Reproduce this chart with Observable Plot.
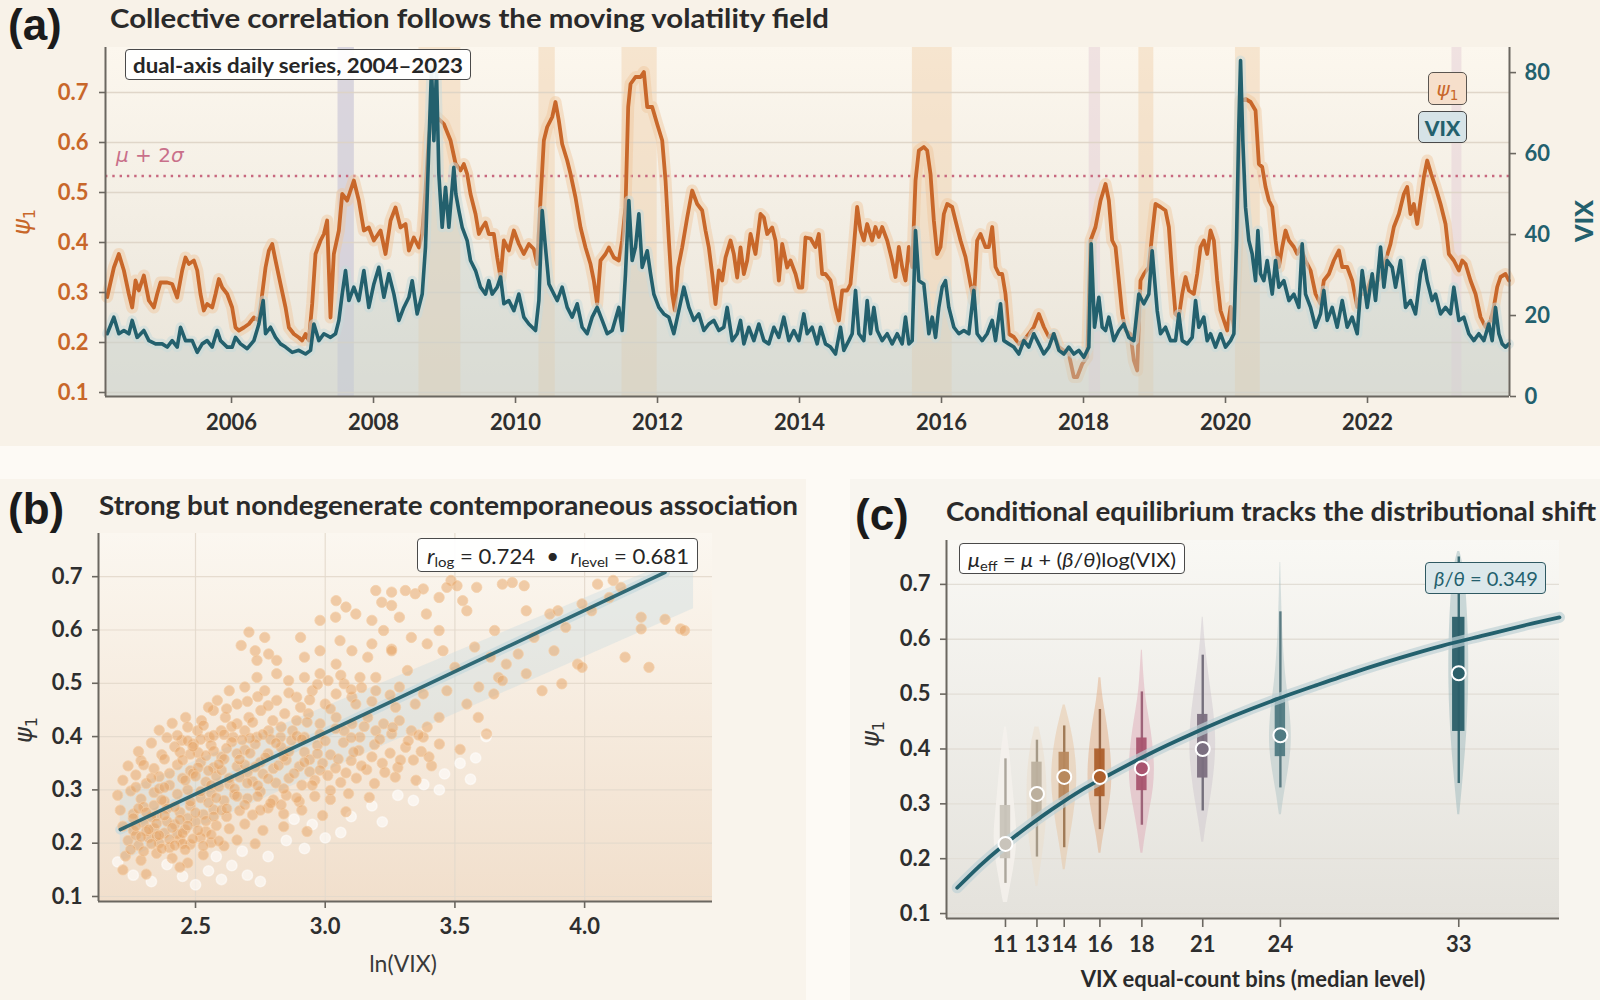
<!DOCTYPE html>
<html><head><meta charset="utf-8">
<script src="https://cdn.jsdelivr.net/npm/d3@7"></script>
<script src="https://cdn.jsdelivr.net/npm/@observablehq/plot@0.6"></script>
<style>
body{margin:0;background:#fdfaf5;}
#root{position:relative;width:1600px;height:1000px;overflow:hidden;font-family:Lato,"DejaVu Sans",sans-serif;color:#2b2b2b;}
.card{position:absolute;}
.bg{position:absolute;}
.fit{position:absolute;white-space:nowrap;transform-origin:0 50%;line-height:1;}
.title{font-weight:700;font-size:27px;color:#2a2a2a;}
.tag{font-family:"Liberation Sans",Arial,sans-serif;font-weight:700;font-size:44px;color:#1b1b1b;}
.math{font-family:"DejaVu Sans",sans-serif;}
.box{position:absolute;box-sizing:border-box;border:1.6px solid #4a4a4a;border-radius:5px;background:rgba(255,255,255,0.93);}
.box .fit{left:50%;top:50%;}
.rot{position:absolute;white-space:nowrap;transform:translate(-50%,-50%) rotate(-90deg);line-height:1;}
sub{font-size:0.68em;vertical-align:-0.28em;line-height:0;}
svg.chart{position:absolute;}
</style></head><body><div id="root">
<div class="card" style="left:0;top:0;width:1600px;height:446px;background:#f8f2e8"></div>
<div class="card" style="left:0;top:479px;width:806px;height:521px;background:#f9f4ec"></div>
<div class="card" style="left:850px;top:479px;width:750px;height:521px;background:#f8f5ef"></div>
<div class="bg" style="left:105px;top:47px;width:1404px;height:349px;background:linear-gradient(#fcf7ee,#e9e4d9)"></div>
<div class="bg" style="left:98px;top:533px;width:614px;height:368px;background:linear-gradient(#fbf7f0,#f1dfcc)"></div>
<div class="bg" style="left:946px;top:540px;width:613px;height:378px;background:linear-gradient(#f9f8f4,#e4e2dc)"></div>
</div>
<script>
// ---------------- Panel (a) data: daily series ----------------
const psiYears = [2004.249,2004.343,2004.413,2004.484,2004.554,2004.601,2004.648,2004.695,2004.765,2004.836,2004.906,2004.953,2005.000,2005.094,2005.164,2005.235,2005.305,2005.352,2005.399,2005.470,2005.517,2005.563,2005.610,2005.657,2005.728,2005.775,2005.822,2005.869,2005.939,2006.009,2006.056,2006.103,2006.174,2006.244,2006.315,2006.385,2006.432,2006.479,2006.526,2006.573,2006.620,2006.690,2006.761,2006.808,2006.878,2006.948,2006.995,2007.042,2007.089,2007.136,2007.183,2007.254,2007.301,2007.347,2007.394,2007.441,2007.512,2007.559,2007.629,2007.723,2007.793,2007.864,2007.934,2008.005,2008.099,2008.169,2008.240,2008.310,2008.380,2008.451,2008.498,2008.568,2008.639,2008.686,2008.732,2008.779,2008.826,2008.897,2008.991,2009.085,2009.155,2009.225,2009.272,2009.319,2009.366,2009.437,2009.484,2009.531,2009.578,2009.624,2009.695,2009.742,2009.789,2009.836,2009.906,2009.977,2010.047,2010.117,2010.188,2010.258,2010.305,2010.352,2010.399,2010.446,2010.517,2010.563,2010.610,2010.657,2010.728,2010.775,2010.845,2010.916,2010.986,2011.056,2011.103,2011.150,2011.197,2011.268,2011.315,2011.385,2011.455,2011.502,2011.549,2011.587,2011.620,2011.690,2011.761,2011.808,2011.855,2011.925,2011.995,2012.066,2012.113,2012.160,2012.207,2012.244,2012.291,2012.347,2012.418,2012.488,2012.559,2012.629,2012.676,2012.723,2012.770,2012.817,2012.864,2012.911,2012.958,2013.028,2013.075,2013.122,2013.169,2013.216,2013.263,2013.310,2013.380,2013.451,2013.498,2013.545,2013.615,2013.662,2013.709,2013.756,2013.826,2013.873,2013.944,2013.991,2014.038,2014.085,2014.155,2014.225,2014.272,2014.319,2014.366,2014.437,2014.507,2014.554,2014.601,2014.671,2014.718,2014.765,2014.812,2014.859,2014.906,2014.953,2015.023,2015.070,2015.117,2015.164,2015.235,2015.305,2015.352,2015.399,2015.446,2015.493,2015.540,2015.587,2015.634,2015.681,2015.751,2015.798,2015.845,2015.892,2015.939,2015.986,2016.033,2016.080,2016.150,2016.197,2016.268,2016.338,2016.408,2016.455,2016.502,2016.549,2016.620,2016.667,2016.714,2016.761,2016.808,2016.855,2016.901,2016.948,2017.019,2017.089,2017.160,2017.230,2017.300,2017.371,2017.441,2017.512,2017.582,2017.653,2017.723,2017.793,2017.864,2017.911,2017.981,2018.052,2018.099,2018.169,2018.240,2018.310,2018.357,2018.404,2018.451,2018.498,2018.545,2018.592,2018.662,2018.709,2018.756,2018.803,2018.850,2018.920,2018.967,2019.014,2019.085,2019.155,2019.202,2019.249,2019.296,2019.343,2019.390,2019.437,2019.484,2019.554,2019.601,2019.648,2019.695,2019.742,2019.789,2019.836,2019.883,2019.930,2019.977,2020.024,2020.071,2020.118,2020.165,2020.212,2020.282,2020.353,2020.423,2020.470,2020.517,2020.564,2020.611,2020.658,2020.705,2020.752,2020.799,2020.846,2020.893,2020.963,2021.010,2021.057,2021.127,2021.198,2021.268,2021.338,2021.385,2021.456,2021.526,2021.597,2021.644,2021.714,2021.784,2021.855,2021.902,2021.972,2022.043,2022.113,2022.184,2022.254,2022.324,2022.371,2022.442,2022.512,2022.559,2022.606,2022.653,2022.700,2022.747,2022.794,2022.841,2022.897,2022.958,2023.029,2023.099,2023.146,2023.216,2023.287,2023.334,2023.381,2023.451,2023.522,2023.592,2023.662,2023.733,2023.780,2023.827,2023.874,2023.944,2023.991];
const psiValues = [0.291,0.350,0.377,0.344,0.297,0.270,0.324,0.304,0.334,0.284,0.270,0.297,0.320,0.320,0.317,0.290,0.344,0.370,0.357,0.364,0.344,0.297,0.264,0.277,0.270,0.297,0.327,0.310,0.297,0.270,0.230,0.224,0.230,0.237,0.250,0.244,0.297,0.350,0.384,0.397,0.364,0.317,0.270,0.230,0.217,0.210,0.204,0.217,0.204,0.277,0.377,0.404,0.417,0.444,0.250,0.377,0.424,0.497,0.484,0.524,0.484,0.424,0.430,0.404,0.424,0.377,0.444,0.470,0.430,0.437,0.384,0.410,0.390,0.417,0.504,0.610,0.657,0.650,0.637,0.604,0.558,0.544,0.557,0.537,0.497,0.457,0.417,0.430,0.440,0.417,0.417,0.370,0.330,0.404,0.384,0.424,0.397,0.377,0.397,0.387,0.357,0.484,0.604,0.631,0.651,0.681,0.644,0.597,0.564,0.537,0.490,0.430,0.390,0.357,0.324,0.277,0.364,0.377,0.390,0.370,0.364,0.404,0.470,0.671,0.717,0.731,0.731,0.741,0.671,0.671,0.637,0.604,0.524,0.404,0.297,0.264,0.350,0.390,0.450,0.504,0.477,0.464,0.424,0.390,0.337,0.277,0.344,0.324,0.370,0.404,0.377,0.330,0.390,0.337,0.364,0.417,0.377,0.457,0.450,0.417,0.430,0.404,0.324,0.397,0.350,0.364,0.337,0.310,0.310,0.410,0.408,0.391,0.417,0.337,0.337,0.324,0.271,0.244,0.304,0.304,0.317,0.391,0.471,0.424,0.404,0.437,0.404,0.431,0.411,0.431,0.404,0.364,0.331,0.391,0.351,0.324,0.391,0.351,0.524,0.584,0.591,0.584,0.537,0.444,0.377,0.391,0.457,0.477,0.471,0.444,0.404,0.371,0.317,0.284,0.404,0.417,0.391,0.391,0.431,0.351,0.337,0.337,0.297,0.217,0.211,0.197,0.204,0.217,0.231,0.257,0.231,0.211,0.217,0.191,0.184,0.177,0.131,0.131,0.157,0.171,0.404,0.431,0.484,0.517,0.484,0.404,0.391,0.324,0.257,0.224,0.217,0.164,0.144,0.324,0.337,0.351,0.417,0.477,0.471,0.464,0.431,0.337,0.257,0.251,0.297,0.331,0.304,0.297,0.337,0.391,0.404,0.377,0.424,0.404,0.324,0.264,0.244,0.224,0.271,0.231,0.404,0.684,0.687,0.681,0.664,0.557,0.551,0.511,0.484,0.471,0.404,0.351,0.391,0.424,0.404,0.391,0.377,0.391,0.364,0.344,0.297,0.277,0.324,0.337,0.364,0.384,0.351,0.351,0.324,0.271,0.297,0.297,0.324,0.317,0.331,0.364,0.397,0.431,0.457,0.497,0.511,0.457,0.477,0.437,0.484,0.531,0.564,0.537,0.511,0.477,0.437,0.377,0.364,0.344,0.364,0.357,0.324,0.297,0.251,0.231,0.244,0.271,0.311,0.331,0.337,0.324];
const vixYears = [2004.249,2004.343,2004.413,2004.484,2004.554,2004.601,2004.671,2004.765,2004.836,2004.930,2005.023,2005.094,2005.164,2005.235,2005.282,2005.352,2005.446,2005.517,2005.587,2005.657,2005.728,2005.798,2005.845,2005.939,2006.009,2006.056,2006.127,2006.221,2006.315,2006.385,2006.446,2006.479,2006.549,2006.620,2006.690,2006.761,2006.855,2006.948,2007.042,2007.113,2007.160,2007.230,2007.301,2007.394,2007.465,2007.512,2007.559,2007.606,2007.653,2007.723,2007.793,2007.864,2007.934,2008.005,2008.075,2008.146,2008.216,2008.287,2008.357,2008.427,2008.498,2008.545,2008.615,2008.686,2008.732,2008.779,2008.817,2008.850,2008.887,2008.920,2008.967,2009.014,2009.061,2009.131,2009.160,2009.202,2009.249,2009.319,2009.366,2009.437,2009.507,2009.578,2009.624,2009.671,2009.742,2009.789,2009.836,2009.906,2009.977,2010.047,2010.117,2010.188,2010.282,2010.329,2010.376,2010.413,2010.470,2010.540,2010.587,2010.657,2010.728,2010.798,2010.869,2010.939,2011.009,2011.080,2011.150,2011.221,2011.291,2011.362,2011.455,2011.502,2011.549,2011.596,2011.643,2011.690,2011.737,2011.784,2011.855,2011.902,2011.948,2012.019,2012.089,2012.160,2012.230,2012.300,2012.371,2012.441,2012.512,2012.582,2012.653,2012.723,2012.793,2012.864,2012.934,2012.981,2013.052,2013.122,2013.169,2013.216,2013.286,2013.357,2013.427,2013.498,2013.568,2013.639,2013.709,2013.779,2013.850,2013.920,2013.991,2014.061,2014.108,2014.178,2014.249,2014.296,2014.366,2014.437,2014.507,2014.577,2014.624,2014.695,2014.742,2014.789,2014.836,2014.906,2014.953,2015.000,2015.047,2015.094,2015.164,2015.235,2015.305,2015.376,2015.446,2015.493,2015.540,2015.587,2015.634,2015.681,2015.751,2015.822,2015.869,2015.916,2015.962,2016.009,2016.056,2016.103,2016.174,2016.244,2016.315,2016.385,2016.455,2016.502,2016.573,2016.643,2016.714,2016.761,2016.831,2016.878,2016.948,2017.019,2017.089,2017.160,2017.230,2017.300,2017.371,2017.441,2017.512,2017.582,2017.653,2017.723,2017.793,2017.864,2017.934,2018.005,2018.075,2018.108,2018.155,2018.216,2018.263,2018.310,2018.357,2018.427,2018.498,2018.568,2018.639,2018.709,2018.779,2018.850,2018.920,2018.967,2019.038,2019.085,2019.155,2019.225,2019.296,2019.343,2019.390,2019.460,2019.531,2019.578,2019.624,2019.695,2019.742,2019.789,2019.859,2019.930,2020.000,2020.071,2020.118,2020.155,2020.188,2020.212,2020.244,2020.282,2020.329,2020.376,2020.423,2020.456,2020.493,2020.540,2020.587,2020.658,2020.705,2020.752,2020.822,2020.893,2020.963,2021.033,2021.080,2021.127,2021.198,2021.268,2021.338,2021.385,2021.432,2021.503,2021.573,2021.644,2021.714,2021.784,2021.855,2021.925,2021.996,2022.066,2022.113,2022.184,2022.231,2022.277,2022.348,2022.395,2022.465,2022.536,2022.606,2022.676,2022.747,2022.794,2022.841,2022.911,2022.958,2023.029,2023.099,2023.169,2023.216,2023.287,2023.357,2023.427,2023.498,2023.568,2023.639,2023.709,2023.756,2023.803,2023.850,2023.897,2023.944,2023.991];
const vixValues = [15.5,19.6,15.5,16.3,15.5,18.8,14.6,16.3,13.8,13.0,13.0,12.2,13.8,12.2,17.1,13.8,13.8,10.9,13.0,13.8,12.2,16.3,13.8,12.2,12.2,14.6,13.0,11.8,13.8,17.9,23.7,15.5,17.1,14.6,13.0,12.2,10.9,11.4,10.5,11.4,17.9,13.8,15.5,14.6,15.5,18.8,25.3,31.1,23.7,27.0,23.7,31.1,22.0,27.8,31.9,24.5,30.3,25.3,18.8,22.0,24.5,28.6,20.4,25.3,36.9,61.6,81.3,63.2,80.5,55.0,41.8,51.7,41.8,56.6,50.0,45.9,41.8,38.5,33.6,31.1,27.0,25.3,28.6,25.3,27.0,29.5,22.9,23.7,21.2,25.3,19.6,17.9,16.3,23.7,45.9,38.5,27.8,25.3,23.7,27.0,22.0,19.6,22.9,17.1,15.5,19.6,22.0,18.8,15.5,16.3,22.0,16.3,30.3,48.4,33.6,36.9,45.1,31.9,36.0,30.3,25.3,22.0,20.4,19.6,15.5,21.2,27.0,22.0,18.8,20.4,16.3,17.9,18.8,16.3,17.1,22.0,13.8,15.5,18.8,13.0,17.1,13.8,17.9,13.8,13.0,17.1,14.6,19.6,13.8,16.3,13.8,20.4,15.5,17.1,13.0,17.1,13.0,12.2,10.5,17.1,11.4,13.8,15.5,26.2,15.5,13.8,23.7,15.5,22.0,16.3,13.8,15.5,13.0,15.5,13.0,19.6,13.0,13.8,41.0,28.6,27.8,15.5,19.6,14.6,22.0,27.0,28.6,22.0,17.1,15.5,16.3,15.5,26.2,15.5,13.8,15.5,18.8,13.8,22.9,13.8,13.0,12.2,10.5,13.8,12.2,15.5,13.0,10.5,12.2,15.5,11.4,10.5,12.2,10.5,11.4,9.7,12.2,37.7,17.1,24.5,17.1,16.3,19.6,13.8,16.3,17.9,14.6,13.8,25.3,22.9,25.3,36.0,21.2,15.5,17.1,13.8,13.8,20.4,13.8,13.0,14.6,23.7,17.1,19.6,13.8,15.5,12.2,15.5,12.2,13.8,15.5,38.5,67.3,83.0,63.2,46.7,38.5,35.2,28.6,41.0,30.3,28.6,33.6,25.3,33.6,27.0,28.6,23.7,25.3,22.0,37.7,25.3,22.0,17.1,20.4,26.2,18.8,22.0,17.1,23.7,17.1,19.6,15.5,31.1,22.0,30.3,23.7,36.9,27.0,33.6,31.9,27.0,33.6,22.0,23.7,20.4,30.3,33.6,28.6,23.7,25.3,20.4,22.0,20.4,27.0,18.8,19.6,15.5,13.8,15.5,13.8,17.9,13.8,22.0,15.5,13.0,12.2,13.0];
const bandStart = [2007.50, 2008.64, 2010.33, 2011.50, 2015.59, 2018.08, 2018.78, 2020.14, 2023.19];
const bandEnd   = [2007.73, 2009.23, 2010.56, 2011.995, 2016.15, 2018.24, 2018.99, 2020.49, 2023.33];
const bandKind  = [1, 0, 0, 0, 0, 2, 0, 0, 2];
const psiThreshold = 0.533;
const psiTicksA = [0.1,0.2,0.3,0.4,0.5,0.6,0.7];
const vixTicksA = [0,20,40,60,80];
const yearTicks = [2006,2008,2010,2012,2014,2016,2018,2020,2022];

// ---------------- Panel (b) data ----------------
const scatterPoints = [
[3.485,0.693],[3.508,0.683],[3.584,0.680],[3.683,0.686],[3.721,0.689],[3.767,0.683],[3.195,0.674],[3.256,0.671],[3.309,0.674],[3.347,0.668],[3.378,0.677],[3.439,0.661],[3.469,0.680],[3.530,0.655],[3.042,0.655],[3.080,0.643],[3.218,0.652],[3.256,0.646],[4.110,0.693],[4.140,0.680],[4.050,0.686],[4.095,0.661],
[2.980,0.618],[3.040,0.624],[3.118,0.630],[3.180,0.618],[3.225,0.599],[3.286,0.624],[3.390,0.630],[3.546,0.636],[3.775,0.636],[3.866,0.630],[3.897,0.636],[3.990,0.649],[4.027,0.636],[4.218,0.624],[4.310,0.620],[4.370,0.602],[4.218,0.602],[2.706,0.596],[2.767,0.586],[2.905,0.586],[3.057,0.580],[3.180,0.574],[3.256,0.564],[3.332,0.586],[3.439,0.599],[3.653,0.599],[3.805,0.586],[3.927,0.605],[4.385,0.599],
[2.676,0.571],[2.730,0.561],[2.782,0.555],[2.813,0.543],[2.920,0.549],[2.980,0.561],[3.103,0.561],[3.164,0.549],[3.256,0.561],[3.393,0.574],[3.454,0.561],[3.576,0.568],[3.637,0.549],[3.744,0.555],[3.882,0.561],[3.973,0.536],[4.156,0.549],[4.248,0.530],[2.737,0.543],[3.042,0.536],[3.317,0.524],[3.500,0.530],[3.698,0.536],[3.775,0.518],[3.668,0.511],[3.990,0.530],
[2.737,0.511],[2.813,0.518],[2.859,0.505],[2.920,0.511],[2.980,0.518],[3.011,0.505],[3.073,0.499],[3.134,0.511],[3.195,0.511],[2.630,0.486],[2.690,0.493],[2.767,0.486],[2.890,0.474],[2.950,0.486],[3.042,0.480],[3.103,0.474],[3.195,0.486],[3.286,0.493],[3.378,0.480],[3.469,0.486],[3.592,0.493],[3.683,0.505],[3.912,0.499],[3.836,0.486],[3.546,0.461],[3.650,0.480],[2.584,0.468],[2.660,0.461],[2.813,0.468],[2.905,0.455],[3.000,0.461],[3.118,0.461],[3.271,0.455],[3.347,0.461],
[2.462,0.436],[2.523,0.430],[2.569,0.449],[2.615,0.436],[2.660,0.424],[2.706,0.436],[2.752,0.449],[2.798,0.430],[2.844,0.443],[2.890,0.430],[2.935,0.443],[2.980,0.424],[3.042,0.436],[3.103,0.424],[3.164,0.436],[3.225,0.424],[3.286,0.430],[3.393,0.418],[3.439,0.436],[3.590,0.436],[3.622,0.405],
[2.508,0.411],[2.553,0.399],[2.599,0.411],[2.645,0.399],[2.690,0.411],[2.737,0.399],[2.782,0.411],[2.828,0.399],[2.874,0.411],[2.920,0.399],[2.980,0.405],[3.073,0.411],[3.134,0.399],[3.195,0.411],[3.256,0.405],[3.332,0.411],[3.378,0.399],[2.447,0.393],[2.492,0.386],
[2.28,0.372],[2.33,0.388],[2.37,0.366],[2.42,0.381],[2.47,0.392],[2.51,0.370],[2.56,0.384],[2.60,0.362],[2.64,0.390],[2.69,0.375],[2.73,0.386],[2.78,0.368],[2.83,0.380],[2.87,0.393],[2.92,0.371],[2.97,0.384],[3.02,0.366],[3.07,0.389],[3.13,0.374],[3.19,0.385],[3.25,0.369],[3.31,0.380],[3.37,0.372],[3.44,0.386],[3.52,0.376],
[2.24,0.345],[2.29,0.355],[2.34,0.340],[2.38,0.358],[2.43,0.347],[2.48,0.336],[2.52,0.352],[2.57,0.342],[2.61,0.358],[2.66,0.344],[2.70,0.333],[2.75,0.352],[2.80,0.340],[2.85,0.356],[2.90,0.344],[2.94,0.334],[2.99,0.350],[3.04,0.341],[3.10,0.355],[3.16,0.338],[3.22,0.350],[3.28,0.342],[3.34,0.356],[3.41,0.345],
[2.22,0.318],[2.27,0.328],[2.31,0.312],[2.36,0.325],[2.40,0.309],[2.45,0.322],[2.49,0.331],[2.54,0.315],[2.58,0.326],[2.63,0.311],[2.67,0.324],[2.72,0.316],[2.76,0.330],[2.81,0.313],[2.86,0.322],[2.91,0.309],[2.96,0.318],[3.01,0.327],[3.06,0.314],[3.12,0.322],[3.19,0.312],[3.27,0.324],[3.35,0.318],
[2.20,0.290],[2.25,0.298],[2.29,0.283],[2.34,0.295],[2.38,0.279],[2.43,0.292],[2.47,0.300],[2.52,0.285],[2.56,0.294],[2.61,0.280],[2.65,0.291],[2.70,0.284],[2.75,0.297],[2.80,0.281],[2.85,0.290],[2.90,0.278],[2.96,0.288],[3.02,0.282],[3.09,0.293],[3.17,0.286],
[2.21,0.262],[2.26,0.255],[2.30,0.268],[2.35,0.252],[2.39,0.265],[2.44,0.258],[2.48,0.270],[2.53,0.254],[2.57,0.263],[2.62,0.250],[2.67,0.261],[2.72,0.253],[2.78,0.266],[2.84,0.255],[2.91,0.262],[2.99,0.252],[3.08,0.259],
[2.22,0.232],[2.26,0.224],[2.30,0.238],[2.34,0.228],[2.38,0.219],[2.42,0.235],[2.46,0.226],[2.50,0.240],[2.54,0.222],[2.58,0.233],[2.63,0.227],[2.69,0.236],[2.76,0.224],[2.84,0.231],[2.93,0.222],
[2.24,0.205],[2.28,0.196],[2.32,0.210],[2.36,0.200],[2.40,0.192],[2.44,0.207],[2.48,0.198],[2.52,0.211],[2.56,0.201],[2.61,0.195],[2.66,0.206],[2.73,0.199],
[2.23,0.176],[2.29,0.168],[2.35,0.181],[2.41,0.172],[2.47,0.163],[2.53,0.178],[2.22,0.150],[2.31,0.142],[2.44,0.155],
[2.31,0.222],[2.35,0.213],[2.39,0.241],[2.43,0.217],[2.47,0.247],[2.27,0.215],[2.45,0.199],[2.33,0.249],
[2.43,0.402],[2.48,0.367],[2.52,0.395],[2.57,0.373],[2.61,0.404],[2.66,0.368],[2.71,0.397],[2.46,0.318],[2.51,0.342],[2.56,0.309],[2.60,0.337],[2.65,0.302],[2.69,0.347],[2.74,0.308],[2.55,0.276],[2.59,0.306],[2.40,0.331],[2.36,0.302],[2.79,0.395],[2.84,0.362],[2.89,0.401],[2.94,0.357],
[2.25,0.188],[2.27,0.232],[2.29,0.212],[2.30,0.185],[2.32,0.226],[2.33,0.199],[2.35,0.237],[2.36,0.215],[2.37,0.190],[2.38,0.252],[2.40,0.207],[2.41,0.229],[2.42,0.196],[2.44,0.244],[2.45,0.219],[2.46,0.188],[2.47,0.233],[2.49,0.208],[2.50,0.257],[2.51,0.224],[2.53,0.195],[2.54,0.242],[2.56,0.216],[2.57,0.250],[2.59,0.204],[2.60,0.262],[2.26,0.247],[2.28,0.265],[2.31,0.258],[2.34,0.271],[2.37,0.281],
[2.36,0.412],[2.39,0.398],[2.41,0.425],[2.44,0.371],[2.45,0.356],[2.47,0.418],[2.49,0.381],[2.50,0.326],[2.52,0.297],[2.53,0.421],[2.54,0.364],[2.55,0.336],[2.57,0.402],[2.58,0.285],[2.59,0.348],[2.62,0.378],[2.63,0.322],[2.64,0.419],[2.66,0.288],[2.67,0.357],[2.68,0.394],[2.70,0.313],[2.71,0.369],[2.72,0.427],[2.73,0.343],[2.74,0.288],[2.76,0.404],[2.77,0.361],[2.78,0.321],[2.79,0.275],[2.81,0.388],[2.82,0.346],[2.83,0.418],[2.84,0.302],[2.86,0.372],[2.88,0.331],[2.89,0.285],[2.91,0.395],[2.92,0.352],[2.93,0.427],[2.95,0.309],[2.97,0.368],[2.98,0.337],[3.00,0.392],[3.02,0.299],[3.04,0.415],[3.05,0.358],[3.08,0.332],[3.10,0.398],[3.11,0.371],[3.14,0.345],[3.15,0.419],[3.18,0.362],[3.21,0.395],[3.23,0.333],[3.26,0.417],[3.29,0.356],[3.32,0.392],[3.36,0.403],[3.40,0.362],[2.48,0.278],[2.42,0.268],[2.38,0.305],[2.33,0.322],[2.30,0.347],[2.27,0.305],[2.62,0.265],[2.69,0.272],[2.75,0.262],[2.83,0.272],
[2.62,0.452],[2.70,0.466],[2.78,0.458],[2.86,0.482],[2.94,0.469],[3.02,0.452],[3.10,0.488],[3.18,0.466],[3.25,0.478],[2.55,0.455],[2.74,0.475],[2.97,0.498],[3.06,0.515],[3.14,0.492]
];
const whitePoints = [[2.20,0.165],[2.26,0.140],[2.33,0.128],[2.39,0.160],[2.45,0.138],[2.50,0.122],[2.55,0.148],[2.60,0.132],[2.64,0.158],[2.70,0.140],[2.75,0.128],[2.58,0.175],[2.68,0.185],[2.78,0.175],[2.85,0.205],[2.92,0.190],[3.00,0.210],[3.06,0.220],[3.10,0.250],[3.18,0.270],[3.28,0.290],[3.38,0.310],[3.46,0.330],[3.52,0.350],[3.58,0.360],[3.62,0.400],[3.56,0.320],[3.44,0.300],[3.34,0.280],[3.22,0.240],[2.95,0.235],[2.88,0.245]];
const fitLnVix = [2.21, 4.31];
const fitPsi = [0.2256, 0.708];
const bandLnVix = [2.21, 4.42];
const bandLo = [0.165, 0.640];
const bandHi = [0.295, 0.745];
const lnTicks = [2.5, 3.0, 3.5, 4.0];
const psiTicks = [0.1,0.2,0.3,0.4,0.5,0.6,0.7];

// ---------------- Panel (c) data ----------------
const binMedianVix = [11.2, 12.7, 14.0, 15.7, 17.7, 20.6, 24.3, 32.8];
const boxQ1 = [0.200,0.268,0.306,0.313,0.324,0.347,0.386,0.432];
const boxQ3 = [0.297,0.376,0.394,0.400,0.420,0.463,0.494,0.640];
const whiskerLo = [0.155,0.203,0.220,0.253,0.261,0.287,0.329,0.337];
const whiskerHi = [0.382,0.416,0.442,0.472,0.504,0.571,0.650,0.750];
const binMedianPsi = [0.227,0.318,0.349,0.349,0.365,0.400,0.425,0.538];
const violinPsi = [
 [0.12,0.16,0.20,0.24,0.28,0.32,0.36,0.40,0.44],
 [0.15,0.20,0.25,0.30,0.35,0.40,0.44],
 [0.18,0.22,0.26,0.30,0.34,0.38,0.42,0.46,0.48],
 [0.21,0.25,0.29,0.33,0.37,0.41,0.45,0.49,0.53],
 [0.21,0.25,0.29,0.33,0.37,0.41,0.45,0.49,0.53,0.58],
 [0.23,0.27,0.31,0.35,0.39,0.43,0.47,0.51,0.55,0.60,0.64],
 [0.28,0.32,0.36,0.40,0.44,0.48,0.52,0.56,0.62,0.69,0.74],
 [0.28,0.34,0.40,0.46,0.52,0.58,0.64,0.70,0.74,0.76]
];
const violinDensity = [
 [2,6,10,12,10,8,6,4,1],
 [1,5,9,10,10,7,2],
 [1,4,8,11,13,12,9,4,1],
 [1,4,9,12,12,10,7,3,1],
 [1,4,8,12,13,11,8,4,2,0.5],
 [1,4,8,11,13,13,11,8,5,2,0.5],
 [1,4,8,11,11,9,6,4,2,1,0.3],
 [1,4,7,9,10,10,9,7,4,1]
];
const curveVix = [8.9,10,11,12,13,14,15,16,18,20,22,24,26,28,30,32,34,36,37.6];
const curvePsi = [0.147,0.188,0.221,0.251,0.279,0.305,0.329,0.350,0.390,0.426,0.459,0.489,0.516,0.542,0.566,0.588,0.607,0.626,0.640];
const betaOverTheta = 0.349;

// ---------------- styles ----------------
const ORANGE = "#c8672a", TEAL = "#23606d", AXIS = "#6b6760", INK = "#2e2e2e";
const bandFill = ["#efcfa9", "#cfcbd8", "#e8d3d9"];
const bandOpacity = [0.45, 0.75, 0.6];
const violinFill = ["#f4f1ec","#eadcc8","#e6c29c","#dfa77c","#dea4b4","#cbc3cd","#abc2c4","#94b4b8"];
const boxFill = ["#c9c4bb","#bcb09e","#b8895e","#ad5f2c","#a9546f","#7b6f80","#4f7a82","#2b5f69"];
const whiskerFill = ["#aca69c","#a69a88","#a07a56","#946649","#9e6379","#756f7c","#5b7b82","#3a6a73"];

const root = document.getElementById("root");
function place(svg, left, top) {
  svg.classList.add("chart");
  svg.style.left = left + "px"; svg.style.top = top + "px";
  svg.style.background = "transparent"; svg.style.maxWidth = "none"; svg.style.overflow = "visible";
  root.appendChild(svg);
}
const baseStyle = {fontFamily: "Lato, 'DejaVu Sans', sans-serif", fontSize: "22px", background: "transparent"};

// ---------------- Panel (a) ----------------
const vixToPsi = d3.scaleLinear().domain([0, 86.2]).range([0.092, 0.79]);
const psiIdx = d3.range(psiYears.length);
const vixIdx = d3.range(vixYears.length);
const bandIdx = d3.range(bandStart.length);
const xA = [2004.225, 2024.0], yA = [0.092, 0.79];
const plotA = Plot.plot({
  width: 1600, height: 446, marginTop: 47, marginRight: 91, marginBottom: 50, marginLeft: 105,
  style: baseStyle,
  x: {domain: xA}, y: {domain: yA},
  marks: [
    Plot.rect(bandIdx, {x1: i => bandStart[i], x2: i => bandEnd[i], y1: yA[0], y2: yA[1], fill: i => bandFill[bandKind[i]], fillOpacity: i => bandOpacity[bandKind[i]]}),
    Plot.gridY(psiTicksA, {stroke: "#ddd3c5", strokeOpacity: 0.9, strokeWidth: 1.4}),
    Plot.ruleY([psiThreshold], {stroke: "#c8687f", strokeWidth: 2.4, strokeDasharray: "2.4,4.9"}),
    Plot.line(psiIdx, {x: i => psiYears[i], y: i => psiValues[i], stroke: "#f0c59c", strokeWidth: 12, strokeOpacity: 0.45, strokeLinejoin: "round"}),
    Plot.line(psiIdx, {x: i => psiYears[i], y: i => psiValues[i], stroke: ORANGE, strokeWidth: 3.8, strokeLinejoin: "round"}),
    Plot.areaY(vixIdx, {x: i => vixYears[i], y1: yA[0], y2: i => vixToPsi(vixValues[i]), fill: "#c3cfcc", fillOpacity: 0.4}),
    Plot.line(vixIdx, {x: i => vixYears[i], y: i => vixToPsi(vixValues[i]), stroke: "#c9dadb", strokeWidth: 10, strokeOpacity: 0.55, strokeLinejoin: "round"}),
    Plot.line(vixIdx, {x: i => vixYears[i], y: i => vixToPsi(vixValues[i]), stroke: TEAL, strokeWidth: 3.6, strokeLinejoin: "round"}),
    Plot.axisY(psiTicksA, {anchor: "left", tickSize: 6, tickPadding: 11, stroke: AXIS, strokeWidth: 1.6, fill: ORANGE, fontWeight: "bold", tickFormat: d3.format(".1f"), label: null}),
    Plot.axisY(vixTicksA.map(vixToPsi), {anchor: "right", tickSize: 6, tickPadding: 9, stroke: AXIS, strokeWidth: 1.6, fill: TEAL, fontWeight: "bold", tickFormat: d => String(Math.round(vixToPsi.invert(d))), label: null}),
    Plot.axisX(yearTicks, {anchor: "bottom", tickSize: 7, tickPadding: 11, stroke: AXIS, strokeWidth: 1.6, fill: INK, fontWeight: "bold", tickFormat: d3.format("d"), label: null}),
    Plot.ruleX([xA[0]], {stroke: AXIS, strokeWidth: 2}),
    Plot.ruleX([xA[1]], {stroke: AXIS, strokeWidth: 2}),
    Plot.ruleY([yA[0]], {stroke: AXIS, strokeWidth: 2})
  ]
});
place(plotA, 0, 0);

// ---------------- Panel (b) ----------------
const xB = [2.126, 4.493], yB = [0.0906, 0.781];
const plotB = Plot.plot({
  width: 806, height: 521, marginTop: 54, marginRight: 94, marginBottom: 99, marginLeft: 98,
  style: baseStyle,
  x: {domain: xB}, y: {domain: yB},
  marks: [
    Plot.gridX(lnTicks, {stroke: "#e3d9cc", strokeOpacity: 0.9, strokeWidth: 1.2}),
    Plot.gridY(psiTicks, {stroke: "#e3d9cc", strokeOpacity: 0.9, strokeWidth: 1.2}),
    Plot.areaY([0, 1], {x: i => bandLnVix[i], y1: i => bandLo[i], y2: i => bandHi[i], fill: "#c8dadf", fillOpacity: 0.38}),
    Plot.dot(whitePoints, {x: d => d[0], y: d => d[1], r: 5.2, fill: "#ffffff", fillOpacity: 0.6, stroke: "#ffffff", strokeOpacity: 0.5}),
    Plot.line([0, 1], {x: i => fitLnVix[i], y: i => fitPsi[i], stroke: "#c5d9dd", strokeWidth: 10, strokeOpacity: 0.7, strokeLinecap: "round"}),
    Plot.dot(scatterPoints, {x: d => d[0], y: d => d[1], r: 5.2, fill: "#e6a161", fillOpacity: 0.5, stroke: "#f4cfa8", strokeWidth: 1, strokeOpacity: 0.75}),
    Plot.line([0, 1], {x: i => fitLnVix[i], y: i => fitPsi[i], stroke: TEAL, strokeWidth: 3.6, strokeOpacity: 0.92, strokeLinecap: "round"}),
    Plot.axisY(psiTicks, {anchor: "left", tickSize: 6, tickPadding: 10, stroke: AXIS, strokeWidth: 1.6, fill: INK, fontWeight: "bold", tickFormat: d3.format(".1f"), label: null}),
    Plot.axisX(lnTicks, {anchor: "bottom", tickSize: 7, tickPadding: 10, stroke: AXIS, strokeWidth: 1.6, fill: INK, fontWeight: "bold", tickFormat: d3.format(".1f"), label: null}),
    Plot.ruleX([xB[0]], {stroke: AXIS, strokeWidth: 2}),
    Plot.ruleY([yB[0]], {stroke: AXIS, strokeWidth: 2})
  ]
});
place(plotB, 0, 479);

// ---------------- Panel (c) ----------------
const xC = [8.39, 37.6], yC = [0.091, 0.78];
const pxPerVix = 613 / (xC[1] - xC[0]);
const violinMarks = binMedianVix.map((c, b) => Plot.areaX(d3.range(violinPsi[b].length), {
  y: i => violinPsi[b][i],
  x1: i => c - violinDensity[b][i] / pxPerVix,
  x2: i => c + violinDensity[b][i] / pxPerVix,
  fill: violinFill[b], fillOpacity: b === 0 ? 0.85 : 0.45, curve: "basis"
}));
const binIdx = d3.range(binMedianVix.length);
const boxHalf = i => (i === 7 ? 6.2 : 5.2) / pxPerVix;
const plotC = Plot.plot({
  width: 750, height: 521, marginTop: 61, marginRight: 41, marginBottom: 82, marginLeft: 96,
  style: baseStyle,
  x: {domain: xC}, y: {domain: yC},
  marks: [
    Plot.gridY(psiTicks, {stroke: "#e2ded6", strokeOpacity: 1, strokeWidth: 1.3}),
    ...violinMarks,
    Plot.ruleX(binIdx, {x: i => binMedianVix[i], y1: i => whiskerLo[i], y2: i => whiskerHi[i], stroke: i => whiskerFill[i], strokeWidth: 2.4}),
    Plot.rect(binIdx, {x1: i => binMedianVix[i] - boxHalf(i), x2: i => binMedianVix[i] + boxHalf(i), y1: i => boxQ1[i], y2: i => boxQ3[i], fill: i => boxFill[i], fillOpacity: 0.95}),
    Plot.line(d3.range(curveVix.length), {x: i => curveVix[i], y: i => curvePsi[i], stroke: "#bfd2d5", strokeWidth: 11, strokeOpacity: 0.7, curve: "natural", strokeLinecap: "round"}),
    Plot.line(d3.range(curveVix.length), {x: i => curveVix[i], y: i => curvePsi[i], stroke: TEAL, strokeWidth: 3.8, curve: "natural", strokeLinecap: "round"}),
    Plot.dot(binIdx, {x: i => binMedianVix[i], y: i => binMedianPsi[i], r: 7, fill: i => boxFill[i], stroke: "#ffffff", strokeWidth: 2}),
    Plot.axisY(psiTicks, {anchor: "left", tickSize: 6, tickPadding: 10, stroke: AXIS, strokeWidth: 1.6, fill: INK, fontWeight: "bold", tickFormat: d3.format(".1f"), label: null}),
    Plot.axisX(binMedianVix, {anchor: "bottom", tickSize: 9, tickPadding: 9, stroke: AXIS, strokeWidth: 1.6, fill: INK, fontWeight: "bold", tickFormat: d3.format(".0f"), label: null}),
    Plot.ruleX([xC[0]], {stroke: AXIS, strokeWidth: 2}),
    Plot.ruleY([yC[0]], {stroke: AXIS, strokeWidth: 2})
  ]
});
place(plotC, 850, 479);

// ---------------- text overlays ----------------
function addHTML(html) { root.insertAdjacentHTML("beforeend", html); }
addHTML(`<div class="fit tag" style="left:8px;top:3px">(a)</div>`);
addHTML(`<div class="fit title" data-w="719" style="left:110px;top:4px">Collective correlation follows the moving volatility field</div>`);
addHTML(`<div class="fit tag" style="left:8px;top:487px">(b)</div>`);
addHTML(`<div class="fit title" data-w="699" style="left:99px;top:491px">Strong but nondegenerate contemporaneous association</div>`);
addHTML(`<div class="fit tag" style="left:855px;top:493px">(c)</div>`);
addHTML(`<div class="fit title" data-w="650" style="left:946px;top:497px">Conditional equilibrium tracks the distributional shift</div>`);

addHTML(`<div class="box" style="left:125px;top:49px;width:346px;height:31px;border-radius:4px"><div class="fit" data-w="330" data-center="1" style="font-weight:700;font-size:20px;color:#262626">dual-axis daily series, 2004–2023</div></div>`);
addHTML(`<div class="box" style="left:1428px;top:72px;width:39px;height:33px;background:#f6dfcb;border-color:#5a5550"><div class="fit math" data-center="1" style="font-size:20px;color:${ORANGE}"><i>ψ</i><sub>1</sub></div></div>`);
addHTML(`<div class="box" style="left:1418px;top:111px;width:49px;height:32px;background:#d6e3e7;border-color:#4a4a4a"><div class="fit" data-center="1" style="font-size:21px;font-weight:900;color:${TEAL}">VIX</div></div>`);
addHTML(`<div class="fit math" style="left:116px;top:145px;font-size:20px;color:#c9708a"><i>μ</i> + 2<i>σ</i></div>`);
addHTML(`<div class="rot math" style="left:22px;top:222px;font-size:24px;color:${ORANGE}"><i>ψ</i><sub>1</sub></div>`);
addHTML(`<div class="rot" style="left:1583px;top:221px;font-size:25px;font-weight:900;color:${TEAL}">VIX</div>`);

addHTML(`<div class="box" style="left:417px;top:538px;width:281px;height:34px;border-radius:4px"><div class="fit" data-w="262" data-center="1" style="font-size:21px;color:#262626"><i>r</i><sub>log</sub> = 0.724 &nbsp;•&nbsp; <i>r</i><sub>level</sub> = 0.681</div></div>`);
addHTML(`<div class="rot math" style="left:24px;top:730px;font-size:24px;color:#333"><i>ψ</i><sub>1</sub></div>`);
addHTML(`<div class="fit" data-center="1" style="left:403px;top:963px;font-size:23px;color:#3a3a3a">ln(VIX)</div>`);

addHTML(`<div class="box" style="left:959px;top:543px;width:226px;height:31px;border-radius:4px"><div class="fit" data-w="208" data-center="1" style="font-size:20px;color:#262626"><i>μ</i><sub>eff</sub> = <i>μ</i> + (<i>β</i>/<i>θ</i>)log(VIX)</div></div>`);
addHTML(`<div class="box" style="left:1425px;top:562px;width:121px;height:32px;border-radius:4px;background:#dce8eb;border-color:#2f5962"><div class="fit" data-w="104" data-center="1" style="font-size:20px;color:${TEAL}"><i>β</i>/<i>θ</i> = ${betaOverTheta.toFixed(3)}</div></div>`);
addHTML(`<div class="rot math" style="left:871px;top:734px;font-size:24px;color:#333"><i>ψ</i><sub>1</sub></div>`);
addHTML(`<div class="fit" data-center="1" style="left:1253px;top:979px;font-size:22px;font-weight:700;color:#2a2a2a">VIX equal-count bins (median level)</div>`);

function fitAll() {
  document.querySelectorAll(".fit").forEach(el => {
    el.style.transform = "";
    const w = el.getBoundingClientRect().width;
    const t = el.dataset.w ? +el.dataset.w : w;
    const s = t / w;
    if (el.dataset.center) {
      el.style.transformOrigin = "50% 50%";
      el.style.transform = `translate(-50%,-50%) scaleX(${s})`;
    } else {
      el.style.transform = `scaleX(${s})`;
    }
  });
}
fitAll();
if (document.fonts && document.fonts.ready) document.fonts.ready.then(fitAll);
</script></body></html>
